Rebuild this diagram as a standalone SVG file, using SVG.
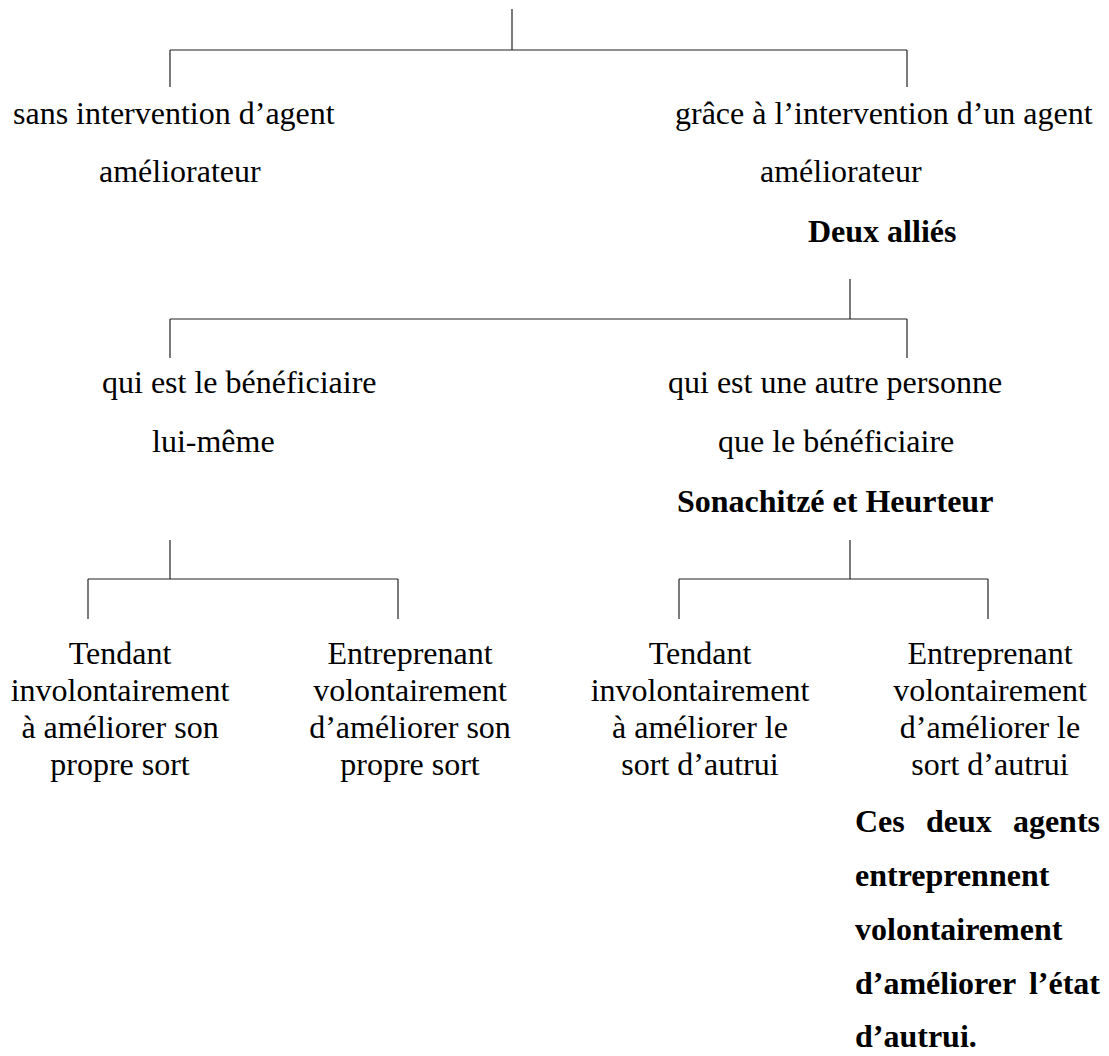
<svg xmlns="http://www.w3.org/2000/svg" width="1109" height="1056" viewBox="0 0 1109 1056">
  <style>
    text { font-family: "Liberation Serif", "Times New Roman", serif; font-size: 32px; fill: #000; }
    .b { font-weight: bold; }
    .c { text-anchor: middle; }
    .e { text-anchor: end; }
    #connectors line { stroke: #222; stroke-width: 1.2; }
  </style>
  <rect width="1109" height="1056" fill="#fff"/>

  <!-- tree connectors -->
  <g id="connectors">
    <!-- level 1 -->
    <line x1="512" y1="9" x2="512" y2="50"/>
    <line x1="170" y1="50" x2="907" y2="50"/>
    <line x1="170" y1="50" x2="170" y2="87"/>
    <line x1="907" y1="50" x2="907" y2="87"/>
    <!-- level 2 -->
    <line x1="850" y1="279" x2="850" y2="319"/>
    <line x1="170" y1="319" x2="907" y2="319"/>
    <line x1="170" y1="319" x2="170" y2="358"/>
    <line x1="907" y1="319" x2="907" y2="358"/>
    <!-- level 3, left -->
    <line x1="170" y1="540" x2="170" y2="579"/>
    <line x1="88" y1="579" x2="398" y2="579"/>
    <line x1="88" y1="579" x2="88" y2="619"/>
    <line x1="398" y1="579" x2="398" y2="619"/>
    <!-- level 3, right -->
    <line x1="850" y1="540" x2="850" y2="579"/>
    <line x1="679" y1="579" x2="988" y2="579"/>
    <line x1="679" y1="579" x2="679" y2="619"/>
    <line x1="988" y1="579" x2="988" y2="619"/>
  </g>

  <g id="sans-agent">
    <text x="13" y="124">sans intervention d’agent</text>
    <text x="99" y="182">améliorateur</text>
  </g>

  <g id="avec-agent">
    <text x="675" y="124">grâce à l’intervention d’un agent</text>
    <text x="760" y="182">améliorateur</text>
    <text class="b" x="808" y="242">Deux alliés</text>
  </g>

  <g id="beneficiaire-lui-meme">
    <text x="102" y="393">qui est le bénéficiaire</text>
    <text x="152" y="452">lui-même</text>
  </g>

  <g id="autre-personne">
    <text x="668" y="393">qui est une autre personne</text>
    <text x="718" y="452">que le bénéficiaire</text>
    <text class="b" x="677" y="512">Sonachitzé et Heurteur</text>
  </g>

  <g id="involontaire-soi">
    <text class="c" x="120" y="664">Tendant</text>
    <text class="c" x="120" y="701">involontairement</text>
    <text class="c" x="120" y="738">à améliorer son</text>
    <text class="c" x="120" y="775">propre sort</text>
  </g>

  <g id="volontaire-soi">
    <text class="c" x="410" y="664">Entreprenant</text>
    <text class="c" x="410" y="701">volontairement</text>
    <text class="c" x="410" y="738">d’améliorer son</text>
    <text class="c" x="410" y="775">propre sort</text>
  </g>

  <g id="involontaire-autrui">
    <text class="c" x="700" y="664">Tendant</text>
    <text class="c" x="700" y="701">involontairement</text>
    <text class="c" x="700" y="738">à améliorer le</text>
    <text class="c" x="700" y="775">sort d’autrui</text>
  </g>

  <g id="volontaire-autrui">
    <text class="c" x="990" y="664">Entreprenant</text>
    <text class="c" x="990" y="701">volontairement</text>
    <text class="c" x="990" y="738">d’améliorer le</text>
    <text class="c" x="990" y="775">sort d’autrui</text>
  </g>

  <!-- justified bold note -->
  <g id="note">
    <text class="b" x="855" y="832">Ces</text>
    <text class="b" x="926" y="832">deux</text>
    <text class="b e" x="1100" y="832">agents</text>
    <text class="b" x="855" y="886">entreprennent</text>
    <text class="b" x="855" y="940">volontairement</text>
    <text class="b" x="855" y="994">d’améliorer</text>
    <text class="b e" x="1100" y="994">l’état</text>
    <text class="b" x="855" y="1047">d’autrui.</text>
  </g>
</svg>
